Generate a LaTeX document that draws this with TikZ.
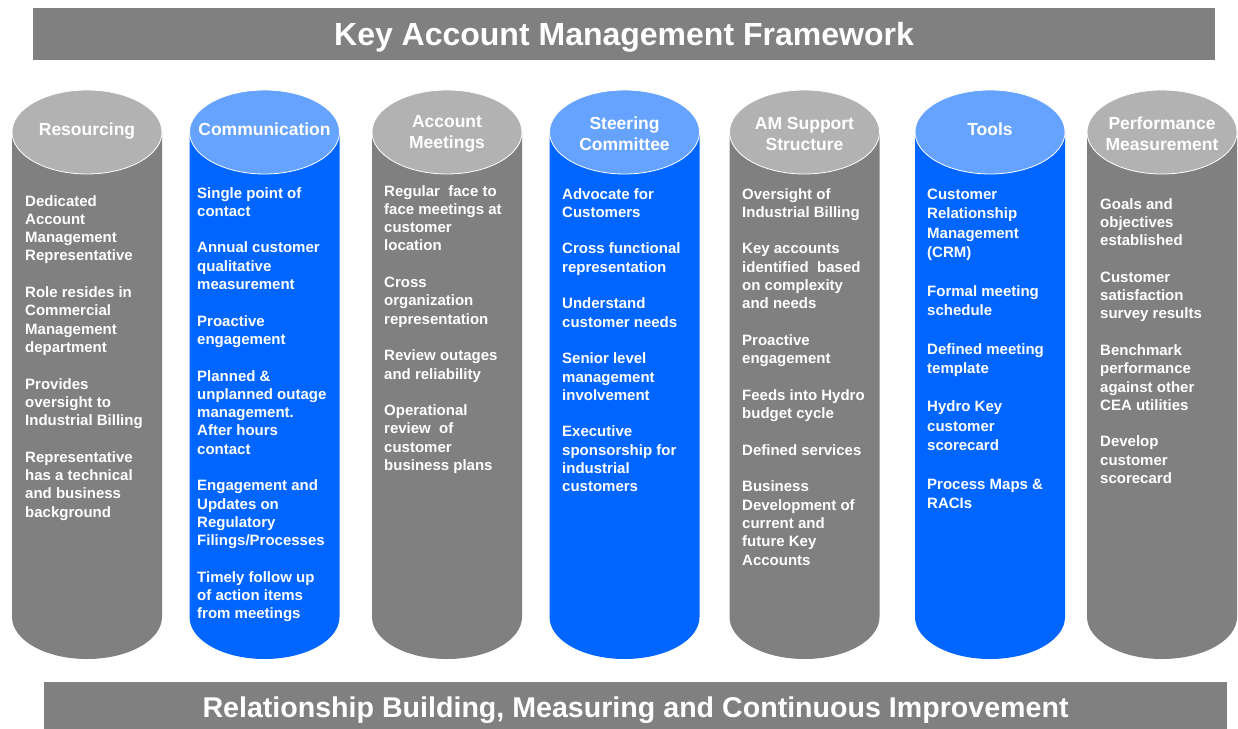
\documentclass[tikz,border=0pt]{standalone}
\usepackage{fontspec}
\setmainfont{Liberation Sans}

\definecolor{bannergray}{HTML}{808080}
\definecolor{bodygray}{HTML}{808080}
\definecolor{lidgray}{HTML}{B2B2B2}
\definecolor{bodyblue}{HTML}{0066FF}
\definecolor{lidblue}{HTML}{66A3FF}

\tikzset{%
  banner/.style={fill=bannergray,text=white,font=\bfseries,inner sep=0pt,
    text depth=0pt},%
  pillar head/.style={text=white,align=center,inner sep=0pt,yshift=-2pt,
    font=\bfseries\fontsize{17.5}{21}\selectfont},%
  single head/.style={pillar head,anchor=base,yshift=-1pt},%
  pillar text/.style={text=white,align=left,anchor=north west,inner sep=0pt,
    font=\bfseries\fontsize{15}{18.3}\selectfont},%
  wide text/.style={pillar text,font=\bfseries\fontsize{15}{19.3}\selectfont}%
}

% empty line between two points of a pillar
\newcommand\paragap{\\[\baselineskip]}

% pillar: #1 body colour, #2 lid colour, #3 centre x, #4 name of the lid centre
\newcommand\DrawPillar[4]{%
  \fill[#1] (#3-\Rx,\yLid) -- (#3-\Rx,\yBase)
    arc[start angle=180,end angle=360,x radius=\Rx pt,y radius=\Ry pt]
    -- (#3+\Rx,\yLid) -- cycle;
  \filldraw[fill=#2,draw=white,line width=0.8pt]
    (#3,\yLid) ellipse[x radius=\Rx pt,y radius=\Ry pt];
  \coordinate (#4) at (#3,\yLid);
}

\begin{document}
\begin{tikzpicture}[x=1pt,y=-1pt]

\def\Rx{75}    % pillar half width
\def\Ry{42}    % lid half height
\def\yLid{132} % centre of the lids
\def\yBase{617}% centre of the bottom arcs
\useasboundingbox (0,0) rectangle (1238,728);

% title and foot banners (the foot runs off the page)
\node[banner,minimum width=1182pt,minimum height=52pt,text height=23pt] (title)
  at (624,34) {\fontsize{32}{38}\selectfont Key Account Management Framework};
\node[banner,minimum width=1183pt,minimum height=50pt,text height=20.5pt] (foot)
  at (635.5,707) {\fontsize{28.6}{34}\selectfont Relationship Building, Measuring and Continuous Improvement};

% the seven pillars
\DrawPillar{bodygray}{lidgray}{87}{res}
\DrawPillar{bodyblue}{lidblue}{264.5}{com}
\DrawPillar{bodygray}{lidgray}{447}{mtg}
\DrawPillar{bodyblue}{lidblue}{624.5}{stc}
\DrawPillar{bodygray}{lidgray}{804.5}{ams}
\DrawPillar{bodyblue}{lidblue}{990}{tls}
\DrawPillar{bodygray}{lidgray}{1162}{prf}

\node[single head] (res-head) at (res) {Resourcing};
\node[single head] (com-head) at (com) {Communication};
\node[pillar head] (mtg-head) at (mtg) {Account\\Meetings};
\node[pillar head] (stc-head) at (stc) {Steering\\Committee};
\node[pillar head] (ams-head) at (ams) {AM Support\\Structure};
\node[single head] (tls-head) at (tls) {Tools};
\node[pillar head] (prf-head) at (prf) {Performance\\Measurement};

\node[pillar text] (res-text) at (25,195) {Dedicated\\Account\\Management\\Representative\paragap
  Role resides in\\Commercial\\Management\\department\paragap
  Provides\\oversight to\\Industrial Billing\paragap
  Representative\\has a technical\\and business\\background};
\node[pillar text] (com-text) at (197,187) {Single point of\\contact\paragap
  Annual customer\\qualitative\\measurement\paragap
  Proactive\\engagement\paragap
  Planned \&\\unplanned outage\\management.\\After hours\\contact\paragap
  Engagement and\\Updates on\\Regulatory\\Filings/Processes\paragap
  Timely follow up\\of action items\\from meetings};
\node[pillar text] (mtg-text) at (384,185) {Regular\ \ face to\\face meetings at\\customer\\location\paragap
  Cross\\organization\\representation\paragap
  Review outages\\and reliability\paragap
  Operational\\review\ \ of\\customer\\business plans};
\node[pillar text] (stc-text) at (562,188) {Advocate for\\Customers\paragap
  Cross functional\\representation\paragap
  Understand\\customer needs\paragap
  Senior level\\management\\involvement\paragap
  Executive\\sponsorship for\\industrial\\customers};
\node[pillar text] (ams-text) at (742,188) {Oversight of\\Industrial Billing\paragap
  Key accounts\\identified\ \ based\\on complexity\\and needs\paragap
  Proactive\\engagement\paragap
  Feeds into Hydro\\budget cycle\paragap
  Defined services\paragap
  Business\\Development of\\current and\\future Key\\Accounts};
\node[wide text] (tls-text) at (927,189) {Customer\\Relationship\\Management\\(CRM)\paragap
  Formal meeting\\schedule\paragap
  Defined meeting\\template\paragap
  Hydro Key\\customer\\scorecard\paragap
  Process Maps \&\\RACIs};
\node[pillar text] (prf-text) at (1100,198) {Goals and\\objectives\\established\paragap
  Customer\\satisfaction\\survey results\paragap
  Benchmark\\performance\\against other\\CEA utilities\paragap
  Develop\\customer\\scorecard};

\end{tikzpicture}
\end{document}
